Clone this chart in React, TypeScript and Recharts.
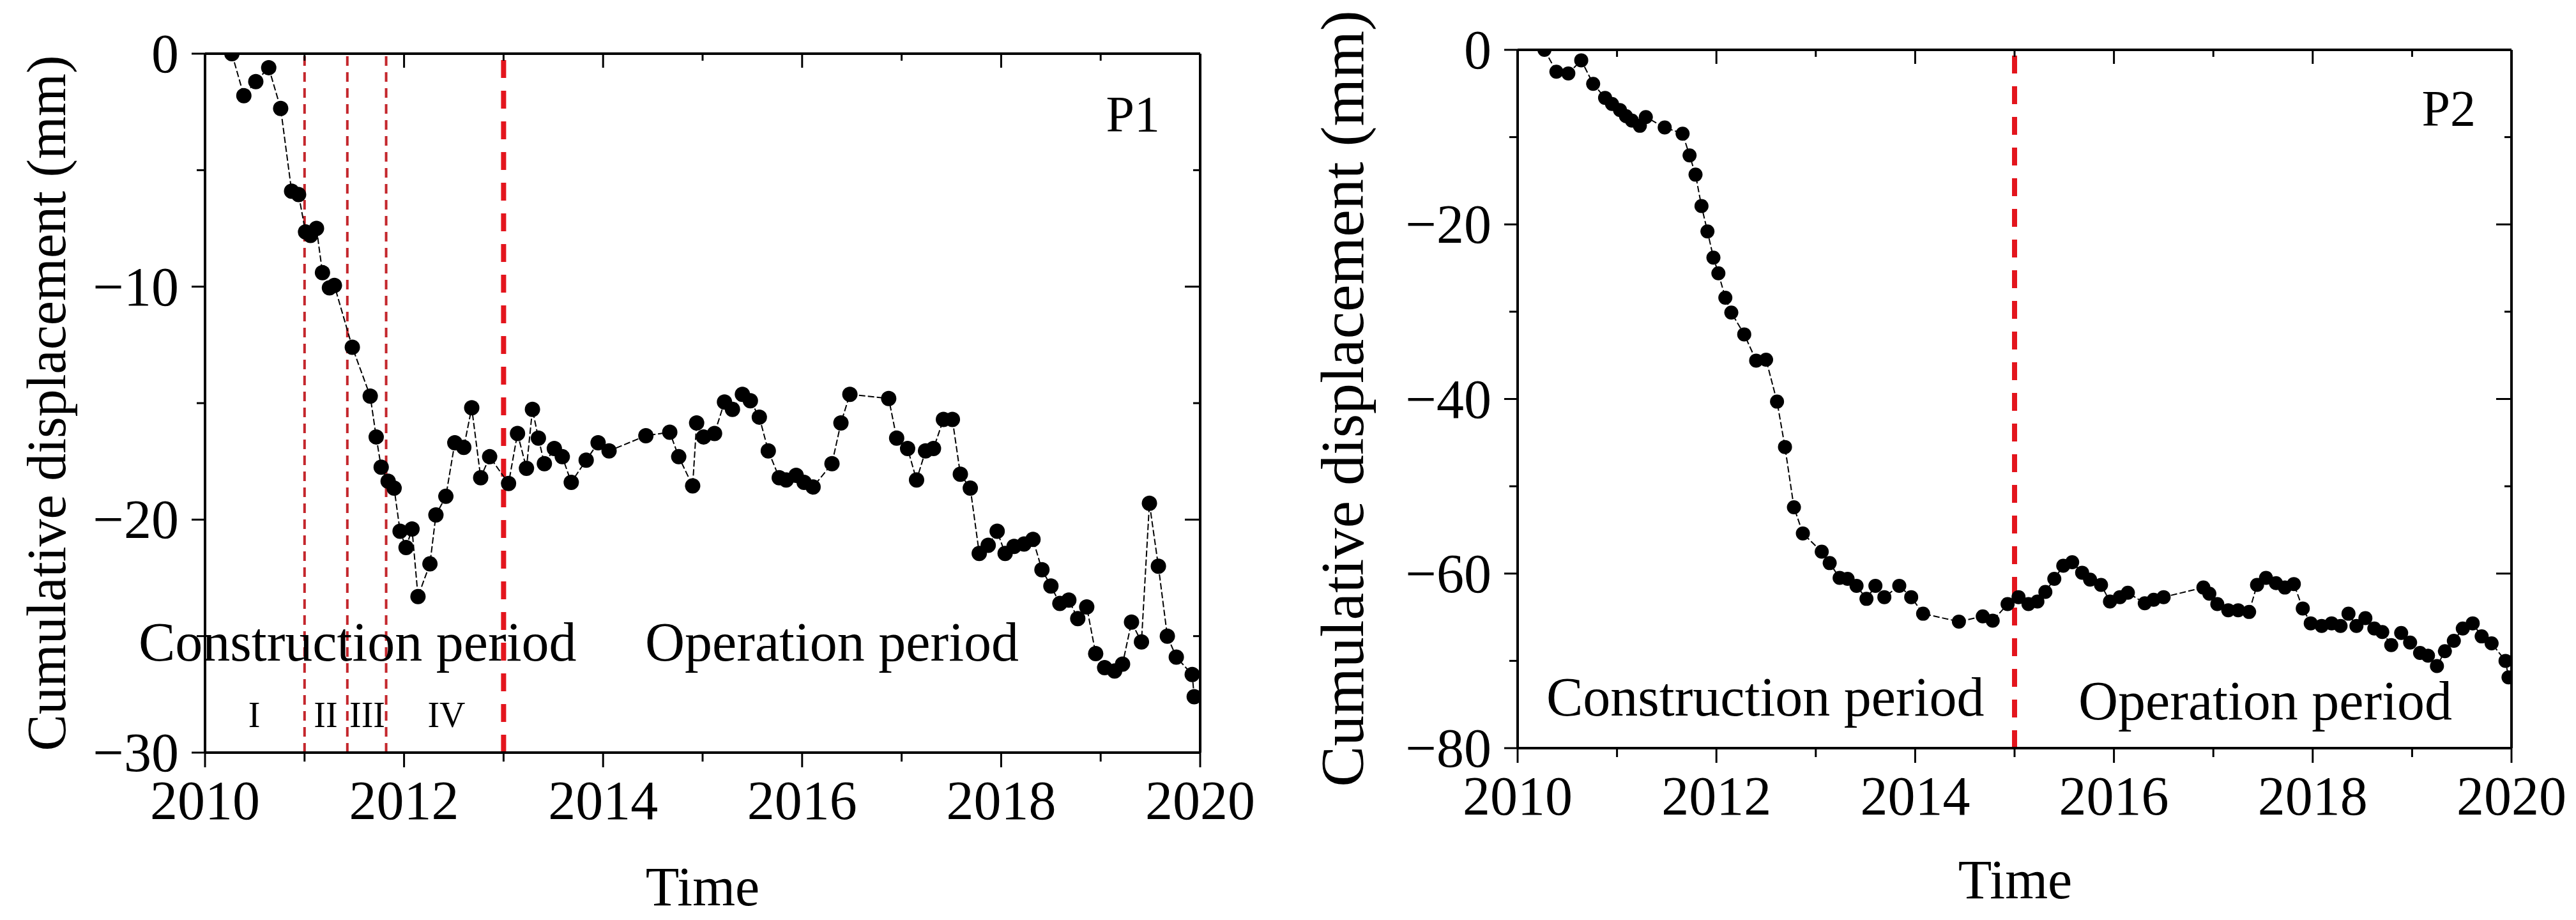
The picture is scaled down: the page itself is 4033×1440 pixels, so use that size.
import React from "react";
import { LineChart, Line, XAxis, YAxis, ReferenceLine } from "recharts";

const FONT = '"Liberation Serif", "Times New Roman", serif';

// ---- data ----
const yearTicks = [2010, 2011, 2012, 2013, 2014, 2015, 2016, 2017, 2018, 2019, 2020];
const p1Ticks = [-30, -25, -20, -15, -10, -5, 0];
const p2Ticks = [-80, -70, -60, -50, -40, -30, -20, -10, 0];

const p1Time = [
  2010.27, 2010.39, 2010.51, 2010.64, 2010.76, 2010.87, 2010.94, 2011.01, 2011.06, 2011.12,
  2011.18, 2011.25, 2011.3, 2011.48, 2011.66, 2011.72, 2011.77, 2011.84, 2011.9, 2011.96,
  2012.02, 2012.08, 2012.14, 2012.26, 2012.32, 2012.42, 2012.51, 2012.6, 2012.68, 2012.77,
  2012.86, 2013.05, 2013.14, 2013.23, 2013.29, 2013.35, 2013.41, 2013.51, 2013.59, 2013.68,
  2013.83, 2013.95, 2014.06, 2014.43, 2014.67, 2014.76, 2014.9, 2014.94, 2015.01, 2015.12,
  2015.22, 2015.3, 2015.4, 2015.48, 2015.57, 2015.66, 2015.77, 2015.84, 2015.94, 2016.02,
  2016.11, 2016.3, 2016.39, 2016.48, 2016.87, 2016.95, 2017.06, 2017.15, 2017.24, 2017.32,
  2017.42, 2017.51, 2017.59, 2017.69, 2017.78, 2017.87, 2017.96, 2018.04, 2018.13, 2018.23,
  2018.32, 2018.41, 2018.5, 2018.59, 2018.68, 2018.77, 2018.86, 2018.95, 2019.04, 2019.14,
  2019.22, 2019.31, 2019.41, 2019.49, 2019.58, 2019.67, 2019.76, 2019.92, 2019.94,
];
const p1Disp = [
  0, -1.8, -1.2, -0.6, -2.35, -5.9, -6.05, -7.65, -7.8, -7.5,
  -9.4, -10.05, -9.95, -12.6, -14.7, -16.45, -17.75, -18.35, -18.65, -20.5,
  -21.2, -20.4, -23.3, -21.9, -19.8, -19.0, -16.7, -16.9, -15.2, -18.2,
  -17.3, -18.45, -16.3, -17.8, -15.27, -16.5, -17.6, -16.95, -17.3, -18.4,
  -17.45, -16.7, -17.05, -16.4, -16.25, -17.3, -18.55, -15.85, -16.45, -16.3,
  -14.95, -15.27, -14.62, -14.9, -15.6, -17.05, -18.2, -18.3, -18.1, -18.4,
  -18.6, -17.6, -15.85, -14.62, -14.8, -16.5, -16.95, -18.3, -17.05, -16.95,
  -15.7, -15.7, -18.05, -18.65, -21.45, -21.1, -20.5, -21.45, -21.15, -21.05,
  -20.85, -22.15, -22.85, -23.6, -23.45, -24.25, -23.75, -25.75, -26.35, -26.5,
  -26.2, -24.4, -25.25, -19.3, -22.0, -25.0, -25.9, -26.65, -27.6,
];

const p2Time = [
  2010.27, 2010.39, 2010.51, 2010.64, 2010.76, 2010.88, 2010.95, 2011.03, 2011.09, 2011.15,
  2011.23, 2011.29, 2011.48, 2011.66, 2011.73, 2011.79, 2011.85, 2011.91, 2011.97, 2012.02,
  2012.09, 2012.15, 2012.28, 2012.4, 2012.5, 2012.61, 2012.69, 2012.78, 2012.87, 2013.06,
  2013.14, 2013.24, 2013.32, 2013.41, 2013.51, 2013.6, 2013.69, 2013.84, 2013.96, 2014.08,
  2014.44, 2014.68, 2014.78, 2014.93, 2015.04, 2015.14, 2015.23, 2015.31, 2015.4, 2015.49,
  2015.58, 2015.68, 2015.76, 2015.87, 2015.96, 2016.06, 2016.14, 2016.31, 2016.4, 2016.5,
  2016.9, 2016.96, 2017.04, 2017.15, 2017.25, 2017.36, 2017.44, 2017.53, 2017.63, 2017.72,
  2017.81, 2017.9, 2017.98, 2018.09, 2018.19, 2018.28, 2018.36, 2018.44, 2018.53, 2018.62,
  2018.7, 2018.79, 2018.89, 2018.98, 2019.08, 2019.16, 2019.25, 2019.33, 2019.42, 2019.51,
  2019.61, 2019.7, 2019.8, 2019.94, 2019.97,
];
const p2Disp = [
  0, -2.5, -2.7, -1.2, -3.9, -5.5, -6.2, -6.9, -7.6, -8.1,
  -8.7, -7.7, -8.9, -9.6, -12.1, -14.3, -17.9, -20.8, -23.8, -25.6,
  -28.4, -30.1, -32.6, -35.6, -35.5, -40.3, -45.5, -52.4, -55.4, -57.5,
  -58.8, -60.5, -60.6, -61.4, -62.9, -61.4, -62.7, -61.4, -62.7, -64.6,
  -65.5, -64.9, -65.4, -63.5, -62.7, -63.5, -63.2, -62.1, -60.6, -59.1,
  -58.7, -59.9, -60.7, -61.3, -63.2, -62.7, -62.2, -63.4, -63.0, -62.7,
  -61.6, -62.3, -63.5, -64.2, -64.2, -64.4, -61.3, -60.5, -61.1, -61.6,
  -61.2, -64.0, -65.7, -66.0, -65.7, -66.0, -64.6, -66.0, -65.1, -66.3,
  -66.7, -68.2, -66.8, -67.9, -69.1, -69.4, -70.6, -68.9, -67.7, -66.3,
  -65.7, -67.2, -68.0, -70.0, -71.9,
];

// construction sub-phase boundaries (P1) and start of operation
const p1PhaseBounds = [2011, 2011.43, 2011.82];
const p1OperationStart = 2013;
const p2OperationStart = 2015;

const p1Data = p1Time.map((t, i) => ({ t, v: p1Disp[i] }));
const p2Data = p2Time.map((t, i) => ({ t, v: p2Disp[i] }));

const fmt = (v: number) => (v < 0 ? "\u2212" + Math.abs(v) : String(v));

function BottomTick({ x, y, payload }: any) {
  const major = payload.value % 2 === 0;
  return (
    <g>
      <line x1={x} x2={x} y1={y} y2={y + (major ? 23 : 14)} stroke="#000" strokeWidth={3} />
      {major && (
        <text x={x} y={y + 104} textAnchor="middle" fontSize={86} fontFamily={FONT} fill="#000">
          {payload.value}
        </text>
      )}
    </g>
  );
}

function TopTick({ x, y, payload }: any) {
  const major = payload.value % 2 === 0;
  return <line x1={x} x2={x} y1={y} y2={y + (major ? 22 : 11)} stroke="#000" strokeWidth={3} />;
}

const leftTick = (step: number) =>
  function LeftTick({ x, y, payload }: any) {
    const major = payload.value % step === 0;
    return (
      <g>
        <line x1={x - (major ? 21 : 13)} x2={x} y1={y} y2={y} stroke="#000" strokeWidth={3} />
        {major && (
          <text x={x - 41} y={y + 29} textAnchor="end" fontSize={86} fontFamily={FONT} fill="#000">
            {fmt(payload.value)}
          </text>
        )}
      </g>
    );
  };

const rightTick = (step: number) =>
  function RightTick({ x, y, payload }: any) {
    const major = payload.value % step === 0;
    return <line x1={x - (major ? 24 : 11)} x2={x} y1={y} y2={y} stroke="#000" strokeWidth={3} />;
  };

const axisLine = { stroke: "#000", strokeWidth: 4 };

function Panel({
  data,
  width,
  margin,
  yDomain,
  yTicks,
  yStep,
  dotR,
  children,
}: any) {
  return (
    <LineChart width={width} height={1440} data={data} margin={margin}>
      <XAxis
        xAxisId="b"
        dataKey="t"
        type="number"
        domain={[2010, 2020]}
        ticks={yearTicks}
        interval={0}
        tick={BottomTick}
        tickSize={0}
        tickMargin={0}
        tickLine={false}
        axisLine={axisLine}
        height={150}
        allowDataOverflow
      />
      <XAxis
        xAxisId="t"
        dataKey="t"
        orientation="top"
        type="number"
        domain={[2010, 2020]}
        ticks={yearTicks}
        interval={0}
        tick={TopTick}
        tickSize={0}
        tickMargin={0}
        tickLine={false}
        axisLine={axisLine}
        height={1}
        allowDataOverflow
      />
      <YAxis
        yAxisId="l"
        type="number"
        domain={yDomain}
        ticks={yTicks}
        interval={0}
        tick={leftTick(yStep)}
        tickSize={0}
        tickMargin={0}
        tickLine={false}
        axisLine={axisLine}
        width={margin.leftAxis}
        allowDataOverflow
      />
      <YAxis
        yAxisId="r"
        orientation="right"
        type="number"
        domain={yDomain}
        ticks={yTicks}
        interval={0}
        tick={rightTick(yStep)}
        tickSize={0}
        tickMargin={0}
        tickLine={false}
        axisLine={axisLine}
        width={1}
        allowDataOverflow
      />
      {children}
      <Line
        xAxisId="b"
        yAxisId="l"
        dataKey="v"
        type="linear"
        stroke="#000"
        strokeWidth={2}
        strokeDasharray="10 4"
        dot={{ r: dotR, fill: "#000", stroke: "#000", strokeWidth: 0 }}
        activeDot={false}
        isAnimationActive={false}
      />
    </LineChart>
  );
}

const thin = { stroke: "#c4262c", strokeWidth: 4, strokeDasharray: "15 10" };
const thick = { stroke: "#e3151d", strokeWidth: 8, strokeDasharray: "28 20" };

const textStyle = { fontFamily: FONT, fill: "#000" } as const;

export default function App() {
  return (
    <div
      style={{
        position: "absolute",
        left: 0,
        top: 0,
        width: 4033,
        height: 1440,
        background: "#fff",
        overflow: "hidden",
      }}
    >
      <div style={{ position: "absolute", left: 0, top: 0 }}>
        <Panel
          data={p1Data}
          width={2000}
          margin={{ top: 83, right: 120, left: 0, bottom: 112, leftAxis: 321 }}
          yDomain={[-30, 0]}
          yTicks={p1Ticks}
          yStep={10}
          dotR={12}
        >
          {p1PhaseBounds.map((x) => (
            <ReferenceLine key={x} x={x} xAxisId="b" yAxisId="l" {...thin} />
          ))}
          <ReferenceLine x={p1OperationStart} xAxisId="b" yAxisId="l" {...thick} />
        </Panel>
      </div>
      <div style={{ position: "absolute", left: 2000, top: 0 }}>
        <Panel
          data={p2Data}
          width={2033}
          margin={{ top: 77, right: 100, left: 0, bottom: 119, leftAxis: 376 }}
          yDomain={[-80, 0]}
          yTicks={p2Ticks}
          yStep={20}
          dotR={11}
        >
          <ReferenceLine x={p2OperationStart} xAxisId="b" yAxisId="l" {...thick} />
        </Panel>
      </div>
      <svg
        width={4033}
        height={1440}
        style={{ position: "absolute", left: 0, top: 0, pointerEvents: "none" }}
      >
        {/* panel P1 annotations */}
        <text x={102} y={631} fontSize={86} textAnchor="middle" transform="rotate(-90 102 631)" {...textStyle}>
          Cumulative displacement (mm)
        </text>
        <text x={1100} y={1417} fontSize={86} textAnchor="middle" {...textStyle}>Time</text>
        <text x={1816} y={206} fontSize={80} textAnchor="end" {...textStyle}>P1</text>
        <text x={217} y={1034} fontSize={86} {...textStyle}>Construction period</text>
        <text x={1010} y={1034} fontSize={86} {...textStyle}>Operation period</text>
        <text x={398} y={1138} fontSize={56} textAnchor="middle" {...textStyle}>I</text>
        <text x={510} y={1138} fontSize={56} textAnchor="middle" {...textStyle}>II</text>
        <text x={575} y={1138} fontSize={56} textAnchor="middle" {...textStyle}>III</text>
        <text x={699} y={1138} fontSize={56} textAnchor="middle" {...textStyle}>IV</text>

        {/* panel P2 annotations */}
        <text x={2134} y={624} fontSize={96} textAnchor="middle" transform="rotate(-90 2134 624)" {...textStyle}>
          Cumulative displacement (mm)
        </text>
        <text x={3155} y={1406} fontSize={86} textAnchor="middle" {...textStyle}>Time</text>
        <text x={3876} y={197} fontSize={80} textAnchor="end" {...textStyle}>P2</text>
        <text x={2421} y={1120} fontSize={86} {...textStyle}>Construction period</text>
        <text x={3254} y={1126} fontSize={86} {...textStyle}>Operation period</text>
      </svg>
    </div>
  );
}
